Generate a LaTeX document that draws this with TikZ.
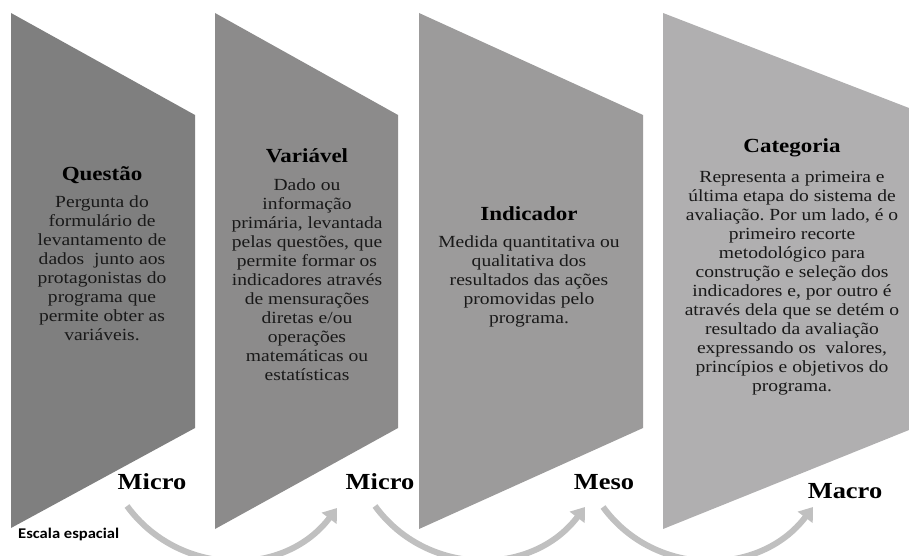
\documentclass[tikz,border=0pt]{standalone}
\usepackage{fontspec}
\setmainfont{Liberation Serif}[FakeStretch=1.15]
\newfontfamily\escfont{Carlito}[FakeStretch=1.12]
\usetikzlibrary{arrows.meta}
\frenchspacing
\definecolor{gA}{RGB}{127,127,127}
\definecolor{gB}{RGB}{140,139,139}
\definecolor{gC}{RGB}{156,155,155}
\definecolor{gD}{RGB}{176,175,176}
\definecolor{arr}{RGB}{192,192,192}
\definecolor{txt}{RGB}{25,25,25}
\begin{document}
\begin{tikzpicture}[x=1pt,y=-1pt,
  titlelbl/.style={anchor=base,inner sep=0pt,font=\fontsize{20}{22}\selectfont\bfseries},
  bodytxt/.style={anchor=north,inner sep=0pt,align=center,text=txt,font=\fontsize{17}{19}\selectfont},
  scalelbl/.style={anchor=base,inner sep=0pt,font=\fontsize{23}{25}\selectfont\bfseries},
  curvearrow/.style={draw=arr,line width=6pt,-{Triangle[width=18pt,length=13pt]}}]
\useasboundingbox (0,0) rectangle (909,556);
\clip (0,0) rectangle (909,556);
% shapes
\fill[gA] (11,13) -- (195,115) -- (195,428) -- (11,528) -- cycle;
\fill[gB] (215,13) -- (398,115) -- (398,428) -- (215,529) -- cycle;
\fill[gC] (419,13) -- (643,115) -- (643,428) -- (419,529) -- cycle;
\fill[gD] (663,13) -- (909,108) -- (909,430) -- (663,529) -- cycle;
% shape 1
\node[titlelbl] (t1) at (102,180) {Questão};
\node[bodytxt] (b1) at (102,195.4) {Pergunta do\\formulário de\\levantamento de\\dados\ \ junto aos\\protagonistas do\\programa que\\permite obter as\\variáveis.};
% shape 2
\node[titlelbl] (t2) at (307,163) {Variável};
\node[bodytxt] (b2) at (307,178.4) {Dado ou\\informação\\primária, levantada\\pelas questões, que\\permite formar os\\indicadores através\\de mensurações\\diretas e/ou\\operações\\matemáticas ou\\estatísticas};
% shape 3
\node[titlelbl] (t3) at (529,220) {Indicador};
\node[bodytxt] (b3) at (529,235.4) {Medida quantitativa ou\\qualitativa dos\\resultados das ações\\promovidas pelo\\programa.};
% shape 4
\node[titlelbl] (t4) at (792,153) {Categoria};
\node[bodytxt] (b4) at (792,171.4) {Representa a primeira e\\última etapa do sistema de\\avaliação. Por um lado, é o\\primeiro recorte\\metodológico para\\construção e seleção dos\\indicadores e, por outro é\\através dela que se detém o\\resultado da avaliação\\expressando os\ \ valores,\\princípios e objetivos do\\programa.};
% scale labels
\node[scalelbl] (m1) at (152,489) {Micro};
\node[scalelbl] (m2) at (380,489) {Micro};
\node[scalelbl] (m3) at (604,489) {Meso};
\node[scalelbl] (m4) at (845,498) {Macro};
\node[anchor=base west,inner sep=0pt,font=\escfont\fontsize{14.8}{16}\selectfont\bfseries] (esc) at (18,538) {Escala espacial};
% arrows
\coordinate (a1s) at (127,506); \coordinate (a1e) at (337,508);
\coordinate (a2s) at (375,506); \coordinate (a2e) at (585,507);
\coordinate (a3s) at (603,507); \coordinate (a3e) at (813,507);
\draw[curvearrow] (a1s) .. controls +(52,71) and +(-53,70) .. (a1e);
\draw[curvearrow] (a2s) .. controls +(52,71) and +(-53,70) .. (a2e);
\draw[curvearrow] (a3s) .. controls +(52,71) and +(-53,70) .. (a3e);
\end{tikzpicture}
\end{document}
